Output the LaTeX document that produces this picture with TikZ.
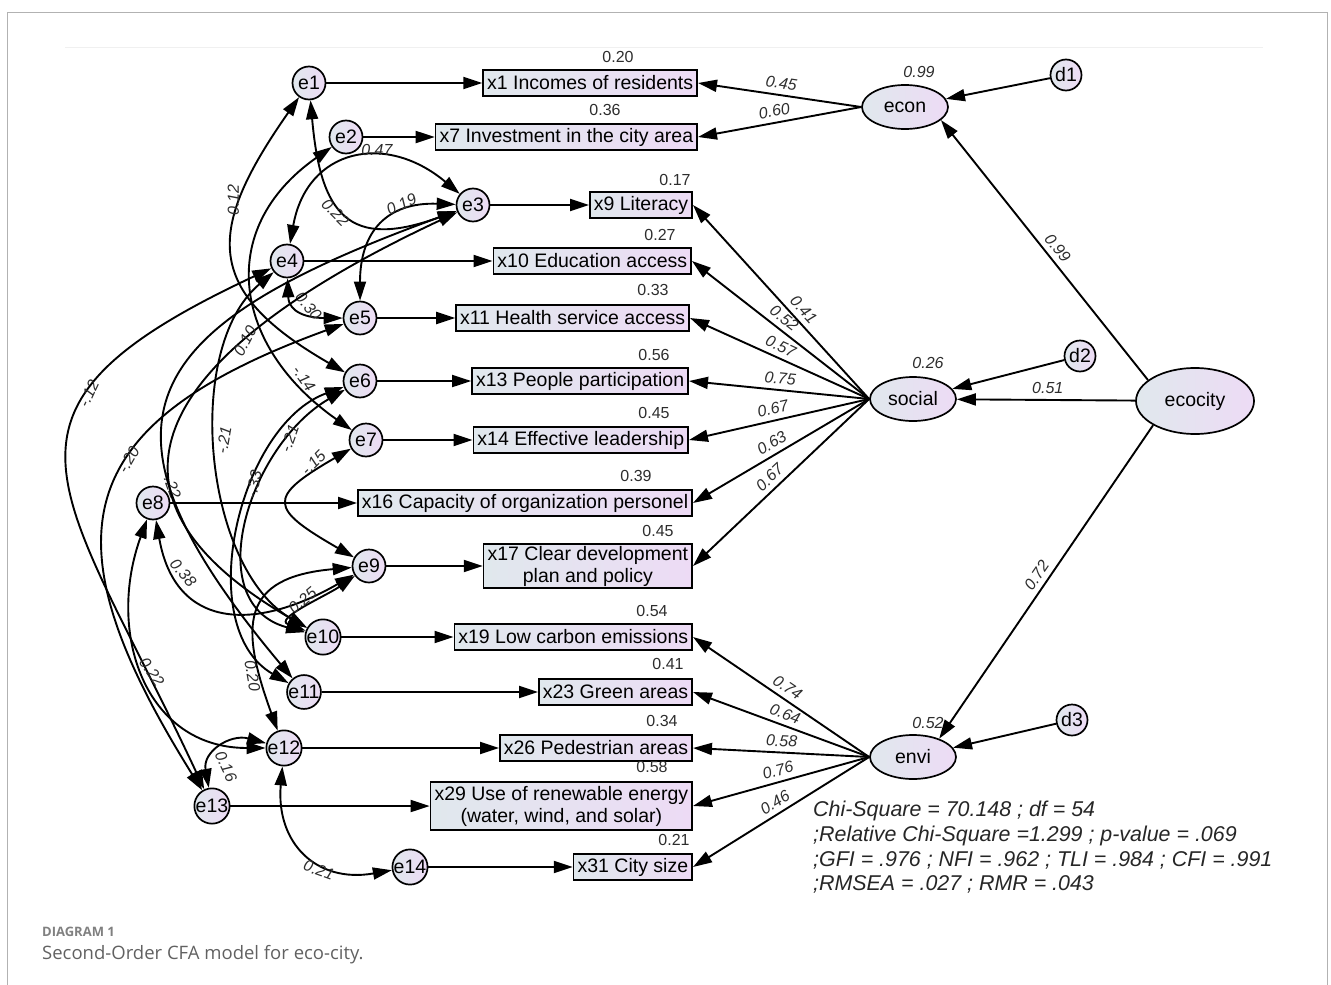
\documentclass[tikz,border=0pt]{standalone}
\usepackage{fontspec}
\setmainfont{Liberation Sans}
\newfontfamily\capfont{Open Sans}
\usepackage{xcolor}
\usetikzlibrary{arrows.meta,positioning,shapes.geometric}
\definecolor{fillL}{RGB}{224,232,237}
\definecolor{fillR}{RGB}{237,219,245}
\definecolor{labgray}{RGB}{45,45,45}

\begin{document}
\begin{tikzpicture}[x=1pt,y=1pt,
  >={Triangle[length=19pt,width=12pt]},
  sem/.style={line width=1.9pt},
  obs/.style={draw,line width=1.7pt,left color=fillL,right color=fillR,inner xsep=4pt,inner ysep=2pt,
    minimum height=26pt,align=center,anchor=east,font=\fontsize{19.5}{22}\selectfont},
  err/.style={circle,draw,line width=1.7pt,left color=fillL,right color=fillR,minimum size=33pt,
    inner sep=0pt,font=\fontsize{19.5}{22}\selectfont},
  lat/.style={ellipse,draw,line width=1.7pt,left color=fillL,right color=fillR,minimum width=86pt,
    minimum height=44pt,inner sep=0pt,font=\fontsize{19.5}{22}\selectfont},
  rsq/.style={font=\fontsize{16}{16}\selectfont,text=labgray,inner sep=1pt},
  coef/.style={font=\fontsize{16}{16}\selectfont\itshape,text=labgray,inner sep=1pt},
]
\useasboundingbox (0,0) rectangle (1331,-985);
\draw[black!30,line width=1pt] (7,-985) -- (7,-12) -- (1327,-12) -- (1327,-985);
\draw[black!6,line width=1pt] (65,-47) -- (1263,-47);

% observed variables
\node[obs] (x1) at (698,-83) {x1 Incomes of residents};
\node[obs] (x7) at (698,-137) {x7 Investment in the city area};
\node[obs] (x9) at (693,-205) {x9 Literacy};
\node[obs] (x10) at (692,-261) {x10 Education access};
\node[obs] (x11) at (690,-318) {x11 Health service access};
\node[obs] (x13) at (689,-381) {x13 People participation};
\node[obs] (x14) at (689,-440) {x14 Effective leadership};
\node[obs] (x16) at (693,-503) {x16 Capacity of organization personel};
\node[obs] (x17) at (693,-566) {x17 Clear development\\plan and policy};
\node[obs] (x19) at (693,-637) {x19 Low carbon emissions};
\node[obs] (x23) at (693,-692) {x23 Green areas};
\node[obs] (x26) at (693,-748) {x26 Pedestrian areas};
\node[obs,minimum height=48pt] (x29) at (693,-806) {x29 Use of renewable energy\\(water, wind, and solar)};
\node[obs] (x31) at (693,-867) {x31 City size};

\foreach \n/\x/\y/\v in {r1/618/57/0.20,r7/605/110/0.36,r9/675/180/0.17,r10/660/235/0.27,
  r11/653/290/0.33,r13/654/355/0.56,r14/654/413/0.45,r16/636/476/0.39,r17/658/531/0.45,
  r19/652/611/0.54,r23/668/664/0.41,r26/662/721/0.34,r29/652/767/0.58,r31/674/840/0.21}
  \node[rsq] (\n) at (\x,-\y) {\v};

% error terms
\node[err] (e1) at (309,-83) {e1};
\node[err] (e2) at (346,-137) {e2};
\node[err] (e3) at (473,-205) {e3};
\node[err] (e4) at (287,-261) {e4};
\node[err] (e5) at (360,-318) {e5};
\node[err] (e6) at (360,-381) {e6};
\node[err] (e7) at (366,-440) {e7};
\node[err] (e8) at (153,-503) {e8};
\node[err] (e9) at (369,-566) {e9};
\node[err] (e10) at (323,-637) {e10};
\node[err] (e11) at (304,-692) {e11};
\node[err] (e12) at (284,-748) {e12};
\node[err] (e13) at (212,-806) {e13};
\node[err] (e14) at (410,-867) {e14};

\foreach \e/\x in {e1/x1,e2/x7,e3/x9,e4/x10,e5/x11,e6/x13,e7/x14,e8/x16,e9/x17,e10/x19,
  e11/x23,e12/x26,e13/x29,e14/x31}
  \draw[sem,->] (\e) -- (\x);

% latent variables
\node[lat] (econ) at (905,-107) {econ};
\node[lat] (social) at (913,-399) {social};
\node[lat] (envi) at (913,-757) {envi};
\node[lat,minimum width=118pt,minimum height=66pt] (ecocity) at (1195,-401) {ecocity};
\node[err,minimum size=31pt] (d1) at (1066,-75) {d1};
\node[err,minimum size=31pt] (d2) at (1080,-356) {d2};
\node[err,minimum size=31pt] (d3) at (1072,-720) {d3};
\node[coef] (re) at (919,-72) {0.99};
\node[coef] (rs) at (928,-363) {0.26};
\node[coef] (rv) at (928,-723) {0.52};

\draw[sem,->] (d1) -- (econ);
\draw[sem,->] (d2) -- (social);
\draw[sem,->] (d3) -- (envi);
\draw[sem,->] (ecocity.156) -- node[coef,pos=.48,sloped,above=4pt] {0.99} (econ.-20);
\draw[sem,->] (ecocity) -- node[coef,pos=.49,above=4pt] {0.51} (social);
\draw[sem,->] (ecocity.210) -- node[coef,pos=.5,sloped,above=4pt] {0.72} (envi.35);

\draw[sem,->] (econ.west) -- node[coef,pos=.5,sloped,above=4pt] {0.45} (x1.east);
\draw[sem,->] (econ.west) -- node[coef,pos=.52,sloped,above=4pt] {0.60} (x7.east);
\foreach \x/\v/\p in {x9/0.41/.42,x10/0.52/.52,x11/0.57/.52,x13/0.75/.5,x14/0.67/.52,
  x16/0.63/.52,x17/0.67/.52}
  \draw[sem,->] (social.west) -- node[coef,pos=\p,sloped,above=4pt] {\v} (\x.east);
\foreach \x/\v in {x19/0.74,x23/0.64,x26/0.58,x29/0.76,x31/0.46}
  \draw[sem,->] (envi.west) -- node[coef,pos=.5,sloped,above=4pt] {\v} (\x.east);

% covariances
\draw[sem,<->] (e1) to[out=-85,in=200,looseness=1.6] node[coef,pos=.45,rotate=-45,below] {0.22} (e3);
\draw[sem,<->] (e4) to[out=80,in=140,looseness=1.4] node[coef,pos=.62,above] {0.47} (e3);
\draw[sem,<->] (e3) to[out=178,in=90,looseness=1.3] node[coef,pos=.3,rotate=25,above] {0.19} (e5);
\draw[sem,<->] (e1) to[out=235,in=150,looseness=1.5] node[coef,pos=.3,rotate=90,above] {0.12} (e6);
\draw[sem,<->] (e2) to[out=215,in=145,looseness=1.3] node[coef,pos=.82,rotate=-55,above] {-.14} (e7);
\draw[sem,<->] (e4) to[out=-88,in=180,looseness=1.3] node[coef,pos=.5,rotate=-50,above] {0.30} (e5);
\draw[sem,<->] (e4) to[out=205,in=115,looseness=1.65] node[coef,pos=.32,rotate=65] {-.12} (e13);
\draw[sem,<->] (e5) to[out=200,in=122,looseness=1.55] node[coef,pos=.4,rotate=60] {-.20} (e13);
\draw[sem,<->] (e3) to[out=200,in=130,looseness=1.75] node[coef,pos=.7,rotate=-70] {-.22} (e11);
\draw[sem,<->] (e3) to[out=205,in=150,looseness=1.7] node[coef,pos=.33,rotate=62] {0.10} (e10);
\draw[sem,<->] (e4) to[out=220,in=150,looseness=.85] node[coef,pos=.46,rotate=80,below] {-.21} (e10);
\draw[sem,<->] (e6) to[out=210,in=165,looseness=1.15] node[coef,pos=.22,rotate=70] {-.21} (e10);
\draw[sem,<->] (e6) to[out=200,in=150,looseness=.95] node[coef,pos=.38,rotate=78] {-.33} (e11);
\draw[sem,<->] (e7) to[out=210,in=150,looseness=2.3] node[coef,pos=.15,rotate=45,above] {-.15} (e9);
\draw[sem,<->] (e8) to[out=-80,in=210,looseness=1.4] node[coef,pos=.22,rotate=-50,above] {0.38} (e9);
\draw[sem,<->] (e10) to[out=160,in=215,looseness=1.2] node[coef,pos=.5,rotate=40,above] {0.25} (e9);
\draw[sem,<->] (e9) to[out=185,in=110,looseness=1.6] node[coef,pos=.8,rotate=-80,below] {0.20} (e12);
\draw[sem,<->] (e8) to[out=250,in=180,looseness=1.2] node[coef,pos=.5,rotate=-55,above] {0.22} (e12);
\draw[sem,<->] (e13) to[out=100,in=165,looseness=1.3] node[coef,pos=.45,rotate=-65,right] {0.16} (e12);
\draw[sem,<->] (e12) to[out=-95,in=190,looseness=1.3] node[coef,pos=.62,rotate=-20,below] {0.21} (e14);

% fit statistics and caption
\node[anchor=north west,align=left,inner sep=0pt,text=black!85,
  font=\fontsize{21.4}{24.7}\selectfont\itshape] (fit) at (813,-801)
  {Chi-Square = 70.148 ; df = 54\\;Relative Chi-Square =1.299 ; p-value = .069\\
   ;GFI = .976 ; NFI = .962 ; TLI = .984 ; CFI = .991\\;RMSEA = .027 ; RMR = .043};
\node[anchor=west,inner sep=0pt,text=black!50,font=\capfont\bfseries\fontsize{13}{13}\selectfont]
  (dlabel) at (42,-932) {DIAGRAM 1};
\node[anchor=west,inner sep=0pt,text=black!62,font=\capfont\fontsize{18.5}{20}\selectfont]
  (caption) at (42,-955) {Second-Order CFA model for eco-city.};
\end{tikzpicture}
\end{document}
